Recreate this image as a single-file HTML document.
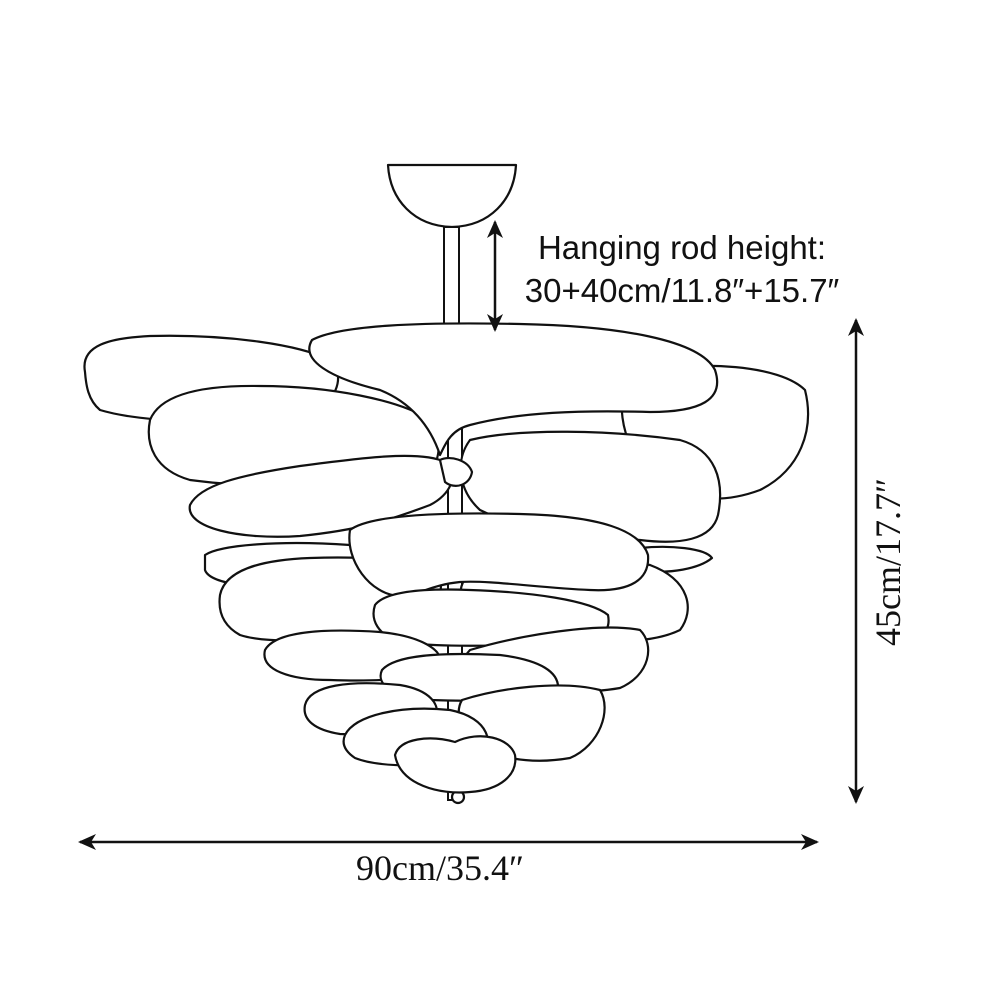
<!DOCTYPE html>
<html><head><meta charset="utf-8"><style>
html,body{margin:0;padding:0;background:#fff;}
svg{display:block;}
.l{fill:#fff;stroke:#111;stroke-width:2.2;stroke-linejoin:round;}
</style></head><body>
<svg width="1000" height="1000" viewBox="0 0 1000 1000" xmlns="http://www.w3.org/2000/svg">
<defs>
<marker id="ah" markerWidth="18" markerHeight="18" refX="16" refY="9" orient="auto-start-reverse" markerUnits="userSpaceOnUse">
<path d="M0,1 L18,9 L0,17 L5,9 Z" fill="#111"/></marker>
</defs>
<path class="l" d="M388,165 L516,165 C514,200 490,226 452,227 C414,226 390,200 388,165 Z"/>
<rect x="444" y="227" width="15" height="110" fill="#fff" stroke="#111" stroke-width="2"/>
<rect x="448" y="420" width="14" height="380" fill="#fff" stroke="#111" stroke-width="2"/>
<path class="l" d="M85,372 C80,345 110,338 150,336 C230,334 300,345 330,360 C350,380 330,410 300,418 C220,425 140,422 100,410 C88,400 86,385 85,372 Z"/>
<path class="l" d="M640,372 C700,360 780,365 805,390 C815,430 800,470 760,490 C720,505 680,500 650,480 C620,440 610,390 640,372 Z"/>
<path class="l" d="M150,420 C160,395 200,385 260,386 C330,386 400,400 430,420 C445,440 440,470 420,480 C360,490 250,488 190,480 C155,470 145,445 150,420 Z"/>
<path class="l" d="M312,340 C340,325 420,322 520,324 C620,326 700,340 715,370 C725,400 700,412 650,412 C580,410 520,412 470,425 C450,430 445,445 440,455 C430,425 410,402 380,390 C330,378 300,360 312,340 Z"/>
<path class="l" d="M470,440 C520,428 610,430 680,440 C715,450 725,480 718,515 C712,540 680,545 640,540 C590,538 520,530 480,510 C458,490 455,460 470,440 Z"/>
<path class="l" d="M190,505 C200,485 240,475 300,466 C360,458 420,450 445,462 C460,475 450,495 430,505 C390,520 360,530 300,536 C240,540 185,528 190,505 Z"/>
<path class="l" d="M440,460 C450,455 468,460 472,472 C470,485 455,490 445,482 Z"/>
<path class="l" d="M640,548 C670,545 705,548 712,558 C700,568 670,575 640,570 Z"/>
<path class="l" d="M205,555 C220,545 280,540 350,545 C360,560 350,580 320,585 C260,590 210,585 205,570 Z"/>
<path class="l" d="M220,595 C225,570 260,560 310,558 C370,556 420,560 440,575 C445,600 430,620 400,630 C340,640 270,645 240,635 C222,625 218,610 220,595 Z"/>
<path class="l" d="M470,575 C520,560 600,555 650,565 C690,580 695,610 680,630 C650,645 600,642 550,640 C500,638 470,625 462,605 C458,590 462,580 470,575 Z"/>
<path class="l" d="M350,530 C370,515 440,512 520,514 C600,516 640,530 648,555 C650,580 630,592 590,590 C540,588 490,580 460,582 C430,585 420,595 400,596 C370,595 345,560 350,530 Z"/>
<path class="l" d="M375,605 C385,592 420,588 470,590 C530,592 590,600 608,615 C612,635 595,645 560,645 C500,645 440,648 400,642 C378,635 370,620 375,605 Z"/>
<path class="l" d="M265,650 C275,632 320,628 380,632 C420,636 445,650 440,665 C430,678 390,682 330,680 C290,680 260,670 265,650 Z"/>
<path class="l" d="M470,650 C520,635 600,622 640,630 C655,645 650,675 620,688 C580,695 520,692 480,685 C462,675 460,660 470,650 Z"/>
<path class="l" d="M382,670 C395,655 440,652 500,655 C540,660 560,672 558,690 C540,700 480,702 430,700 C395,698 375,685 382,670 Z"/>
<path class="l" d="M305,705 C310,685 350,680 400,685 C430,690 442,705 435,720 C420,732 380,736 340,734 C315,730 302,720 305,705 Z"/>
<path class="l" d="M462,700 C500,688 560,680 600,690 C612,710 600,745 570,758 C530,765 490,758 470,740 C458,725 456,710 462,700 Z"/>
<path class="l" d="M345,735 C355,715 400,705 450,710 C490,718 495,745 480,758 C440,768 380,768 355,758 C343,750 342,742 345,735 Z"/>
<circle cx="458" cy="797" r="6" class="l"/>
<path class="l" d="M395,755 C400,738 430,735 455,742 C480,730 510,738 515,755 C518,775 500,790 470,792 C440,795 400,785 395,755 Z"/>
<line x1="495" y1="222" x2="495" y2="330" stroke="#111" stroke-width="2.5" marker-start="url(#ah)" marker-end="url(#ah)"/>
<line x1="856" y1="320" x2="856" y2="802" stroke="#111" stroke-width="2.5" marker-start="url(#ah)" marker-end="url(#ah)"/>
<line x1="80" y1="842" x2="817" y2="842" stroke="#111" stroke-width="2.5" marker-start="url(#ah)" marker-end="url(#ah)"/>
<text x="682" y="259" font-family="Liberation Sans, sans-serif" font-size="33" text-anchor="middle" fill="#111">Hanging rod height:</text>
<text x="682" y="302" font-family="Liberation Sans, sans-serif" font-size="33" text-anchor="middle" fill="#111">30+40cm/11.8″+15.7″</text>
<text x="440" y="880" font-family="Liberation Serif, serif" font-size="36" text-anchor="middle" fill="#111">90cm/35.4″</text>
<text transform="translate(900,562) rotate(-90)" font-family="Liberation Serif, serif" font-size="36" text-anchor="middle" fill="#111">45cm/17.7″</text>
</svg>
</body></html>
